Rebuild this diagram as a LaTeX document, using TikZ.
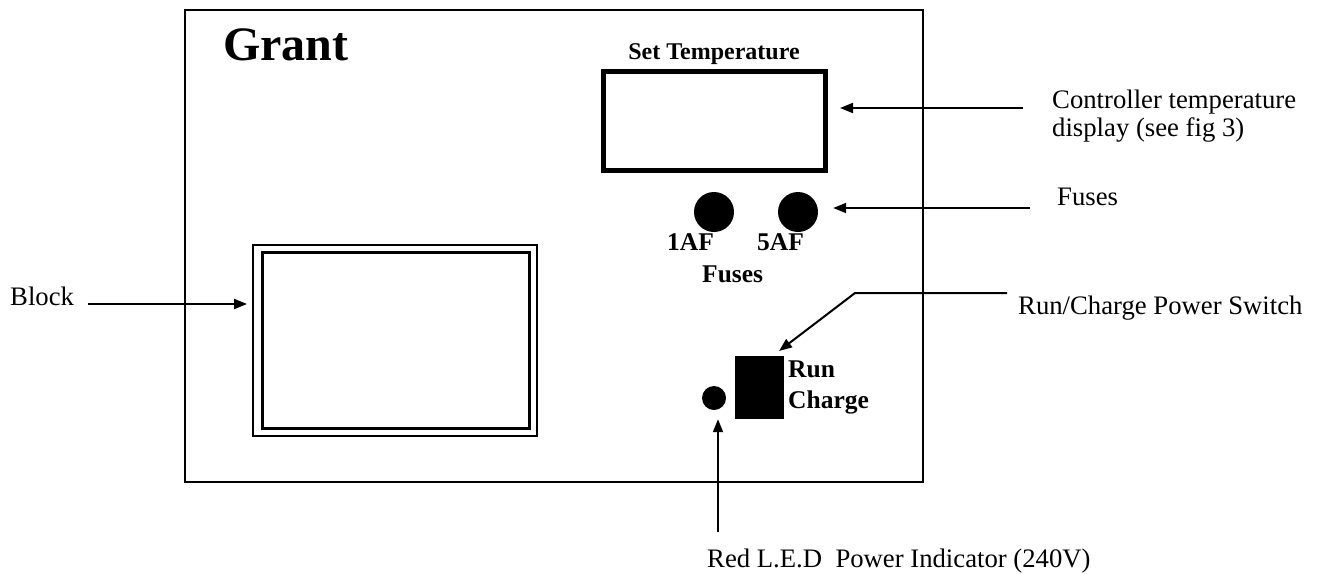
\documentclass[tikz,border=0pt]{standalone}
\usepackage{fontspec}
\setmainfont{Liberation Serif}
\usetikzlibrary{arrows.meta}
\begin{document}
\begin{tikzpicture}[x=1pt,y=-1pt,
  box/.style={draw, inner sep=0pt, outer sep=0pt},
  arr/.style={line width=2pt, -{Triangle[length=13pt,width=10pt]}},
  lbl/.style={font=\fontsize{26.7}{28}\selectfont, inner sep=0pt, anchor=base west},
  blbl/.style={font=\bfseries\fontsize{25.5}{27}\selectfont, inner sep=0pt, anchor=base west}]
\useasboundingbox (0,0) rectangle (1321,573);
% panel
\node[box, line width=2pt, minimum width=738pt, minimum height=472pt, anchor=north west] (panel) at (185,10) {};
\node[font=\bfseries\fontsize{48}{50}\selectfont, inner sep=0pt, anchor=base west] (grant) at (223,60) {Grant};
% display
\node[box, line width=5pt, minimum width=222pt, minimum height=99pt] (disp) at (714,120.5) {};
\node[font=\bfseries\fontsize{24}{26}\selectfont, inner sep=0pt, anchor=base] (settemp) at (714,59) {Set Temperature};
% fuses
\node[circle, fill, inner sep=0pt, minimum size=40pt] (f1) at (714,212) {};
\node[circle, fill, inner sep=0pt, minimum size=40pt] (f2) at (798,212) {};
\node[blbl] (f1l) at (667,250) {1AF};
\node[blbl] (f2l) at (757,250) {5AF};
\node[blbl] (fl) at (702,282) {Fuses};
% block
\node[box, line width=2pt, minimum width=284pt, minimum height=191pt, anchor=north west] (blockout) at (253,245) {};
\node[box, line width=3pt, minimum width=267pt, minimum height=176pt, anchor=north west] (blockin) at (262,252) {};
% switch
\node[box, fill, minimum width=48pt, minimum height=62pt, anchor=north west] (sw) at (735,356) {};
\node[blbl] (run) at (788,377) {Run};
\node[blbl] (charge) at (788,408) {Charge};
% LED
\node[circle, fill, inner sep=0pt, minimum size=24pt] (led) at (714,398) {};
% labels
\node[lbl, align=left] (ctrl) at (1052,136) {Controller temperature\\display (see fig 3)};
\node[lbl] (fusesl) at (1057,205) {Fuses};
\node[lbl] (blockl) at (10,305) {Block};
\node[lbl] (swl) at (1018,314) {Run/Charge Power Switch};
\node[lbl] (ledl) at (707,567) {Red L.E.D\ \ Power Indicator (240V)};
% arrows
\coordinate (c1) at (1023,108);
\draw[arr] (c1) -- ([xshift=15pt]disp.east |- c1);
\coordinate (c2) at (1030,208);
\draw[arr] (c2) -- ([xshift=15pt]f2.east |- c2);
\coordinate (c3) at (88,304);
\draw[arr] (c3) -- ([xshift=-6pt]blockout.west |- c3);
\coordinate (c4) at (1007,293);
\coordinate (c4b) at (855,293);
\draw[arr] (c4) -- (c4b) -- ([xshift=-4pt,yshift=5pt]sw.north east);
\coordinate (c5) at (718,532);
\draw[arr] (c5) -- ([yshift=-9pt]c5 |- led.south);
\end{tikzpicture}
\end{document}
